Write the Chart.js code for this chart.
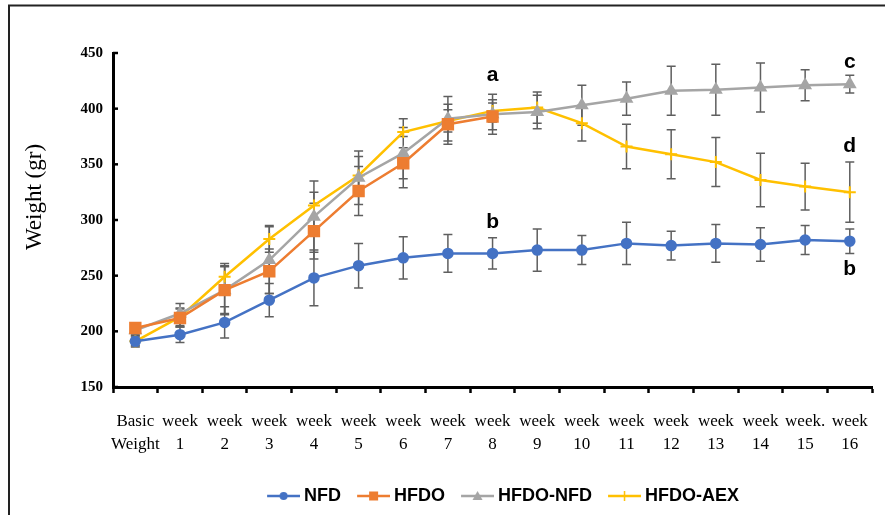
<!DOCTYPE html>
<html>
<head>
<meta charset="utf-8">
<script src="https://cdn.jsdelivr.net/npm/chart.js"></script>
<style>
  html, body { margin: 0; padding: 0; background: #fff; }
</style>
</head>
<body>
<canvas id="myChart" width="885" height="515"></canvas>
<script>
const weekLabels = [
    ['Basic', 'Weight'], ['week', '1'], ['week', '2'], ['week', '3'], ['week', '4'],
    ['week', '5'], ['week', '6'], ['week', '7'], ['week', '8'], ['week', '9'],
    ['week', '10'], ['week', '11'], ['week', '12'], ['week', '13'], ['week', '14'],
    ['week.', '15'], ['week', '16']
];

const nfd = [191, 197, 208, 228, 248, 259, 266, 270, 270, 273, 273, 279, 277, 279, 278, 282, 281];
const nfdErr = [5, 7, 14, 15, 25, 20, 19, 17, 14, 19, 13, 19, 13, 17, 15, 13, 11];

const hfdo = [203, 212, 237, 254, 290, 326, 351, 386, 393];
const hfdoErr = [4, 8, 21, 20, 25, 22, 14, 18, 12];

const hfdoNfd = [201, 216, 237, 264, 303, 338, 360, 391, 395, 397, 403, 409, 416, 417, 419, 421, 422];
const hfdoNfdErr = [4, 9, 22, 30, 32, 24, 31, 20, 18, 15, 18, 15, 22, 23, 22, 14, 8];

const hfdoAex = [191, 213, 249, 283, 313, 340, 379, 389, 398, 401, 387, 366, 359, 352, 336, 330, 325];
const hfdoAexErr = [4, 8, 12, 12, 12, 17, 4, 10, 10, 14, 16, 20, 22, 22, 24, 21, 27];

// significance letters
const letterText = ['a', 'b', 'c', 'd', 'b'];
const letterIndex = [8, 8, 16, 16, 16];
const letterValue = [430, 298, 442, 366, 256];

const yTicks = [150, 200, 250, 300, 350, 400, 450];

const errColor = '#5f5f5f';
const lineWidth = 2.5;

// small line + marker pictures for the legend
function legendIcon(color, style) {
    const c = document.createElement('canvas');
    c.width = 43;
    c.height = 14;
    const g = c.getContext('2d');
    g.strokeStyle = color;
    g.fillStyle = color;
    g.lineWidth = 2.5;
    g.beginPath();
    g.moveTo(10, 7);
    g.lineTo(43, 7);
    g.stroke();
    const cx = 26.5, cy = 7;
    g.beginPath();
    if (style === 'circle') {
        g.arc(cx, cy, 4, 0, Math.PI * 2);
        g.fill();
    } else if (style === 'rect') {
        g.fillRect(cx - 4.5, cy - 4.5, 9, 9);
    } else if (style === 'triangle') {
        g.moveTo(cx, cy - 5);
        g.lineTo(cx + 5, cy + 4);
        g.lineTo(cx - 5, cy + 4);
        g.closePath();
        g.fill();
    } else {
        g.lineWidth = 1.5;
        g.moveTo(cx - 5, cy);
        g.lineTo(cx + 5, cy);
        g.moveTo(cx, cy - 5);
        g.lineTo(cx, cy + 5);
        g.stroke();
    }
    return c;
}

const errorBars = {
    id: 'errorBars',
    beforeDatasetsDraw(chart) {
        const ctx = chart.ctx;
        const x = chart.scales.x, y = chart.scales.y;
        ctx.save();
        ctx.strokeStyle = errColor;
        ctx.lineWidth = 1.5;
        chart.data.datasets.forEach(ds => {
            ds.data.forEach((v, j) => {
                const e = ds.errors[j];
                const px = x.getPixelForValue(j);
                const top = y.getPixelForValue(v + e);
                const bot = y.getPixelForValue(v - e);
                ctx.beginPath();
                ctx.moveTo(px, top); ctx.lineTo(px, bot);
                ctx.moveTo(px - 4.5, top); ctx.lineTo(px + 4.5, top);
                ctx.moveTo(px - 4.5, bot); ctx.lineTo(px + 4.5, bot);
                ctx.stroke();
            });
        });
        ctx.restore();
    }
};

const decorations = {
    id: 'decorations',
    afterLayout(chart) {
        // legend sits a little right of the plot centre in the original
        chart.legend.left += 8;
        chart.legend.right += 8;
    },
    beforeDraw(chart) {
        const ctx = chart.ctx;
        ctx.save();
        ctx.fillStyle = '#fff';
        ctx.fillRect(0, 0, chart.width, chart.height);
        ctx.strokeStyle = '#222';
        ctx.lineWidth = 2;
        ctx.beginPath();
        ctx.moveTo(9, chart.height);
        ctx.lineTo(9, 5.5);
        ctx.lineTo(chart.width, 5.5);
        ctx.stroke();
        ctx.restore();
    },
    afterDraw(chart) {
        const ctx = chart.ctx;
        const x = chart.scales.x, y = chart.scales.y;
        ctx.save();
        // inward ticks on the y axis
        ctx.strokeStyle = '#000';
        ctx.lineWidth = 2.5;
        yTicks.forEach(t => {
            const py = y.getPixelForValue(t);
            ctx.beginPath();
            ctx.moveTo(chart.chartArea.left, py);
            ctx.lineTo(chart.chartArea.left + 5, py);
            ctx.stroke();
        });
        // axis title
        ctx.fillStyle = '#000';
        ctx.font = "23px 'Liberation Serif'";
        ctx.textAlign = 'center';
        ctx.textBaseline = 'middle';
        ctx.translate(35, 197);
        ctx.rotate(-Math.PI / 2);
        ctx.fillText('Weight (gr)', 0, 0);
        ctx.restore();

        ctx.save();
        ctx.fillStyle = '#000';
        ctx.font = "bold 21px 'Liberation Sans'";
        ctx.textAlign = 'center';
        ctx.textBaseline = 'middle';
        letterText.forEach((t, i) => {
            ctx.fillText(t, x.getPixelForValue(letterIndex[i]), y.getPixelForValue(letterValue[i]));
        });
        ctx.restore();
    }
};

const ctx = document.getElementById('myChart').getContext('2d');

const data = {
    labels: weekLabels,
    datasets: [{
            label: 'NFD',
            data: nfd,
            errors: nfdErr,
            borderColor: '#4472C4',
            backgroundColor: '#4472C4',
            pointStyle: 'circle',
            pointRadius: 4.5,
            borderWidth: lineWidth,
            icon: legendIcon('#4472C4', 'circle')
        },
        {
            label: 'HFDO',
            data: hfdo,
            errors: hfdoErr,
            borderColor: '#ED7D31',
            backgroundColor: '#ED7D31',
            pointStyle: 'rect',
            pointRadius: 7,
            borderWidth: lineWidth,
            icon: legendIcon('#ED7D31', 'rect')
        },
        {
            label: 'HFDO-NFD',
            data: hfdoNfd,
            errors: hfdoNfdErr,
            borderColor: '#A5A5A5',
            backgroundColor: '#A5A5A5',
            pointStyle: 'triangle',
            pointRadius: 5.5,
            borderWidth: lineWidth,
            icon: legendIcon('#A5A5A5', 'triangle')
        },
        {
            label: 'HFDO-AEX',
            data: hfdoAex,
            errors: hfdoAexErr,
            borderColor: '#FFC000',
            backgroundColor: '#FFC000',
            pointStyle: 'cross',
            pointRadius: 6,
            pointBorderWidth: 2,
            borderWidth: lineWidth,
            icon: legendIcon('#FFC000', 'cross')
        }
    ]
};

const options = {
    responsive: false,
    animation: false,
    devicePixelRatio: 1,
    layout: { padding: { top: 53, right: 7, left: 0, bottom: 0 } },
    elements: { line: { tension: 0 } },
    scales: {
        x: {
            type: 'category',
            offset: true,
            afterFit(scale) { scale.height = 89; },
            grid: {
                offset: true,
                drawOnChartArea: false,
                drawTicks: true,
                tickLength: 6,
                tickWidth: 2.5,
                tickColor: '#000'
            },
            border: { display: true, color: '#000', width: 3 },
            ticks: {
                color: '#000',
                padding: 17,
                maxRotation: 0,
                autoSkip: false,
                font: { family: "'Liberation Serif'", size: 17, lineHeight: 1.35 }
            }
        },
        y: {
            min: 150,
            max: 450,
            afterFit(scale) { scale.width = 113; },
            grid: { drawOnChartArea: false, drawTicks: false },
            border: { display: true, color: '#000', width: 3 },
            ticks: {
                stepSize: 50,
                padding: 10,
                color: '#000',
                font: { family: "'Liberation Serif'", size: 15, weight: 'bold' }
            }
        }
    },
    plugins: {
        tooltip: { enabled: false },
        legend: {
            position: 'bottom',
            fullSize: false,
            labels: {
                usePointStyle: true,
                pointStyleWidth: 33,
                padding: 11,
                color: '#000',
                font: { family: "'Liberation Sans'", size: 18, weight: 'bold' },
                generateLabels(chart) {
                    return chart.data.datasets.map((ds, i) => ({
                        text: ds.label,
                        pointStyle: ds.icon,
                        fillStyle: 'transparent',
                        strokeStyle: 'transparent',
                        lineWidth: 0,
                        hidden: false,
                        datasetIndex: i
                    }));
                }
            }
        }
    }
};

var myLineChart = new Chart(ctx, {
    type: 'line',
    data: data,
    options: options,
    plugins: [decorations, errorBars]
});
</script>
</body>
</html>
